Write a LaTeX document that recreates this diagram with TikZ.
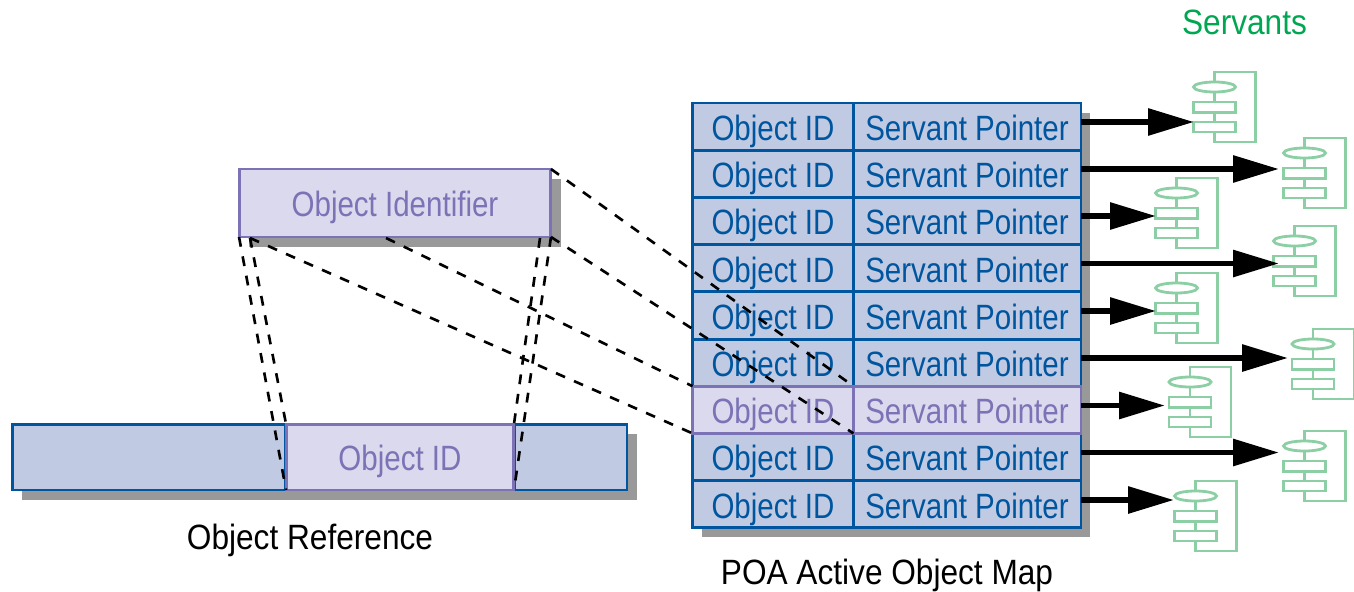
\documentclass[tikz,border=0pt]{standalone}
\usepackage{fontspec}
\usetikzlibrary{arrows.meta}
\setmainfont{Liberation Sans}
\newfontfamily\cellfont[FakeStretch=0.84]{Liberation Sans}
\newfontfamily\labelfont[FakeStretch=0.9]{Liberation Sans}
\definecolor{cellblue}{HTML}{00559F}
\definecolor{cellfill}{HTML}{C0CAE2}
\definecolor{markline}{HTML}{7B73B6}
\definecolor{markfill}{HTML}{DAD9ED}
\definecolor{shadowgray}{HTML}{999999}
\definecolor{servline}{HTML}{8CCFA4}
\definecolor{servtext}{HTML}{00A651}
\tikzset{
  pics/servant/.style={code={
    \draw [servpen] (0,10) -- (0,0) -- (41,0) -- (41,70) -- (0,70) -- (0,60);
    \draw [servpen] (0,20) -- (0,30) (0,40.5) -- (0,50);
    \draw [servpen] (0,15) ellipse (21 and 5);
    \draw [servpen] (-21,30) rectangle (21,40.5);
    \draw [servpen] (-21,50) rectangle (21,60);
  }}
}
\begin{document}
\begin{tikzpicture}[x=0.02cm, y=-0.02cm, line join=miter,
    servpen/.style={draw=servline, line width=1.6pt},
    idcell/.style={draw=cellblue, fill=cellfill, text=cellblue, line width=1.7pt, minimum width=3.22cm, minimum height=0.944cm, inner sep=0pt, outer sep=0pt, text height=0.66cm, text depth=0.104cm, font=\cellfont\fontsize{20}{24}\selectfont},
    ptrcell/.style={idcell, minimum width=4.56cm},
    markid/.style={idcell, draw=markline, fill=markfill, text=markline},
    markptr/.style={ptrcell, draw=markline, fill=markfill, text=markline},
    shadowbox/.style={fill=shadowgray},
    ptrarrow/.style={line width=3.4pt, -{Triangle[length=0.92cm, width=0.52cm]}},
    mapline/.style={line width=1.5pt, dash pattern=on 5.6pt off 5.6pt},
    caption/.style={inner sep=0pt, font=\labelfont\fontsize{20}{24}\selectfont}]
  \useasboundingbox (0,0) rectangle (1354,591);

  \fill [shadowbox] (249,179) rectangle (561,247);
  \fill [shadowbox] (22,434) rectangle (637,500);
  \fill [shadowbox] (702,113) rectangle (1090,537);

  \node [markid, minimum width=6.24cm, minimum height=1.36cm] (oid) at (395,203) {Object Identifier};

  \node [idcell, minimum width=5.48cm, minimum height=1.32cm] (refleft) at (149,457) {};
  \node [idcell, minimum width=2.26cm, minimum height=1.32cm] (refright) at (570.5,457) {};
  \node [markid, minimum width=4.56cm, minimum height=1.32cm] (refid) at (400,457) {Object ID};

  \node [idcell] (id1) at (773,126.6) {Object ID};
  \node [ptrcell] (ptr1) at (967,126.6) {Servant Pointer};
  \node [idcell] (id2) at (773,173.8) {Object ID};
  \node [ptrcell] (ptr2) at (967,173.8) {Servant Pointer};
  \node [idcell] (id3) at (773,221) {Object ID};
  \node [ptrcell] (ptr3) at (967,221) {Servant Pointer};
  \node [idcell] (id4) at (773,268.2) {Object ID};
  \node [ptrcell] (ptr4) at (967,268.2) {Servant Pointer};
  \node [idcell] (id5) at (773,315.4) {Object ID};
  \node [ptrcell] (ptr5) at (967,315.4) {Servant Pointer};
  \node [idcell] (id6) at (773,362.6) {Object ID};
  \node [ptrcell] (ptr6) at (967,362.6) {Servant Pointer};
  \node [idcell] (id8) at (773,457) {Object ID};
  \node [ptrcell] (ptr8) at (967,457) {Servant Pointer};
  \node [idcell] (id9) at (773,504.2) {Object ID};
  \node [ptrcell] (ptr9) at (967,504.2) {Servant Pointer};
  \node [markid] (id7) at (773,409.8) {Object ID};
  \node [markptr] (ptr7) at (967,409.8) {Servant Pointer};

  \coordinate (oid1) at (250,238);
  \coordinate (oid2) at (386,238);
  \coordinate (oid3) at (540,238);

  \draw [mapline] (oid.south west) -- (refid.south west);
  \draw [mapline] (oid1) -- (refid.north west);
  \draw [mapline] (oid.south east) -- (refid.south east);
  \draw [mapline] (oid3) -- (refid.north east);
  \draw [mapline] (oid.north east) -- (id7.north east);
  \draw [mapline] (oid.south east) -- (id7.south east);
  \draw [mapline] (oid2) -- (id7.north west);
  \draw [mapline] (oid1) -- (id7.south west);

  \pic at (1214.5,72) {servant};
  \pic at (1304.5,138) {servant};
  \pic at (1176.5,178) {servant};
  \pic at (1294.5,226) {servant};
  \pic at (1176.5,273) {servant};
  \pic at (1313,329) {servant};
  \pic at (1190,367) {servant};
  \pic at (1304.5,431) {servant};
  \pic at (1195.5,481) {servant};

  \coordinate (tip1) at (1194,122);
  \coordinate (tip2) at (1279,169);
  \coordinate (tip3) at (1156,216);
  \coordinate (tip4) at (1279,263.5);
  \coordinate (tip5) at (1156,311);
  \coordinate (tip6) at (1288,358);
  \coordinate (tip7) at (1165,405.5);
  \coordinate (tip8) at (1279,452.5);
  \coordinate (tip9) at (1174,500);

  \draw [ptrarrow] (ptr1.east |- tip1) -- (tip1);
  \draw [ptrarrow] (ptr2.east |- tip2) -- (tip2);
  \draw [ptrarrow] (ptr3.east |- tip3) -- (tip3);
  \draw [ptrarrow] (ptr4.east |- tip4) -- (tip4);
  \draw [ptrarrow] (ptr5.east |- tip5) -- (tip5);
  \draw [ptrarrow] (ptr6.east |- tip6) -- (tip6);
  \draw [ptrarrow] (ptr7.east |- tip7) -- (tip7);
  \draw [ptrarrow] (ptr8.east |- tip8) -- (tip8);
  \draw [ptrarrow] (ptr9.east |- tip9) -- (tip9);

  \node [caption] (reflabel) at (310,540) {Object Reference};
  \node [caption] (maplabel) at (887,575) {POA Active Object Map};
  \node [caption, text=servtext] (servlabel) at (1244.5,22) {Servants};
\end{tikzpicture}
\end{document}
